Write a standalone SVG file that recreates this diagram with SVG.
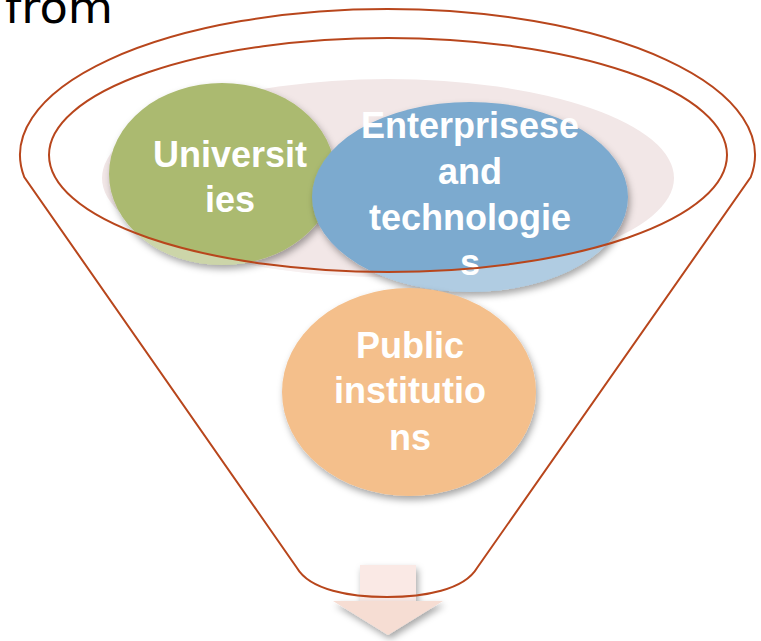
<svg xmlns="http://www.w3.org/2000/svg" width="761" height="641" viewBox="0 0 761 641">
<style>
.lbl{font-family:"Liberation Sans",Arial,sans-serif;font-weight:bold;font-size:36px;fill:#FFFFFF;text-anchor:middle}
.edge{fill:none;stroke:#B8461C;stroke-width:2}
.lite{fill:#FFFFFF;fill-opacity:0.4}
</style>
<defs>
<filter id="sh" x="-20%" y="-20%" width="140%" height="150%">
<feDropShadow dx="2" dy="4" stdDeviation="3.5" flood-color="#000" flood-opacity="0.35"/>
</filter>
<clipPath id="outside">
<path clip-rule="evenodd" d="M0 0H761V641H0Z M49 155 A339 117 0 1 0 727 155 A339 117 0 1 0 49 155 Z"/>
</clipPath>
</defs>
<rect width="761" height="641" fill="#FFFFFF"/>
<text x="5" y="23" font-family="DejaVu Sans,sans-serif" font-size="44" fill="#000" textLength="108" lengthAdjust="spacingAndGlyphs">from</text>

<g id="backdrop">
<ellipse cx="388" cy="178" rx="286" ry="99" fill="#F2E7E7"/>
<ellipse cx="388" cy="178" rx="286" ry="99" class="lite" clip-path="url(#outside)"/>
</g>

<g id="universities">
<ellipse cx="222" cy="174" rx="113" ry="91" fill="#ABBA70" filter="url(#sh)"/>
<ellipse cx="222" cy="174" rx="113" ry="91" class="lite" clip-path="url(#outside)"/>
<text class="lbl" x="230" y="167">Universit</text>
<text class="lbl" x="230" y="212">ies</text>
</g>

<g id="enterprises">
<ellipse cx="470" cy="197" rx="158" ry="95" fill="#7BAACF" filter="url(#sh)"/>
<ellipse cx="470" cy="197" rx="158" ry="95" class="lite" clip-path="url(#outside)"/>
<text class="lbl" x="470" y="138">Enterprisese</text>
<text class="lbl" x="470" y="184">and</text>
<text class="lbl" x="470" y="230">technologie</text>
<text class="lbl" x="470" y="275">s</text>
</g>

<g id="output-arrow">
<rect x="360" y="565" width="56" height="37" fill="#FAE9E5" filter="url(#sh)"/>
<polygon points="333,601 443,601 388,635" fill="#F6DDD3" filter="url(#sh)"/>
</g>

<g id="connectors">
<path class="edge" d="M24.2 177 A367.5 146 0 1 1 750.8 177 L477 568 C464 590 424 597 387 597 C350 597 310 590 297 568 Z"/>
<ellipse class="edge" cx="388" cy="155" rx="339" ry="117"/>
</g>

<g id="public">
<ellipse cx="409" cy="392" rx="127" ry="104" fill="#F4BF8B" filter="url(#sh)"/>
<text class="lbl" x="410" y="358">Public</text>
<text class="lbl" x="410" y="403">institutio</text>
<text class="lbl" x="410" y="450">ns</text>
</g>
</svg>
